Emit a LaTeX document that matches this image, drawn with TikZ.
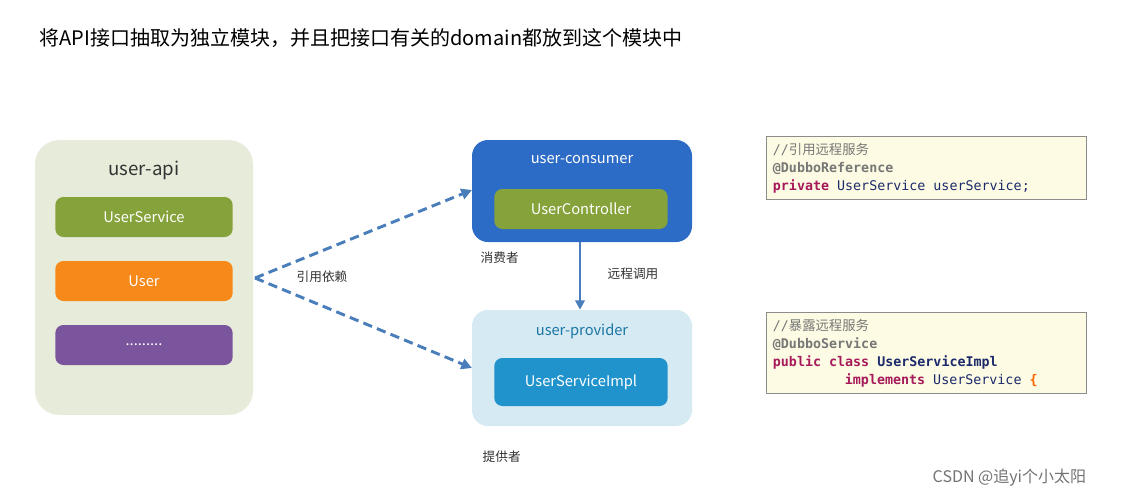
\documentclass[tikz,border=0pt]{standalone}
\usepackage{fontspec}
\setmainfont{Noto Sans CJK SC}
\newfontfamily\cjk{Noto Sans CJK SC}
\newfontfamily\monof{DejaVu Sans Mono}
\usetikzlibrary{arrows.meta}
\newcommand{\msp}{\hspace*{0.602em}}
\definecolor{apibg}{HTML}{E7ECDA}
\definecolor{olive}{HTML}{86A23A}
\definecolor{orng}{HTML}{F7891B}
\definecolor{purp}{HTML}{7A559E}
\definecolor{cblue}{HTML}{2C6CC6}
\definecolor{pbg}{HTML}{D6EAF4}
\definecolor{pblue}{HTML}{2193CC}
\definecolor{arr}{HTML}{4A7EBB}
\definecolor{codebg}{HTML}{FDFBE3}
\definecolor{kw}{HTML}{A6195A}
\definecolor{ty}{HTML}{1B2A6B}
\definecolor{cm}{HTML}{777777}
\begin{document}
\begin{tikzpicture}[x=0.75pt,y=-0.75pt,
  box/.style={rounded corners=6pt,draw=none},
  item/.style={box,minimum width=133pt,minimum height=30pt,text=white,font=\cjk\fontsize{11}{13}\selectfont},
  lbl/.style={font=\cjk\fontsize{9.5}{11}\selectfont,text=black!80},
  code/.style={draw=black!45,fill=codebg,anchor=north west,align=left,inner sep=5pt,text width=230pt,font=\monof\fontsize{10}{13.5}\selectfont}]
\useasboundingbox (0,0) rectangle (1128,497);
\fill[white] (0,0) rectangle (1128,497);
\node[anchor=west,font=\cjk\fontsize{15}{18}\selectfont] (title) at (35,38) {将API接口抽取为独立模块，并且把接口有关的domain都放到这个模块中};
% user-api
\node[box,fill=apibg,rounded corners=18pt,minimum width=163.5pt,minimum height=206pt] (api) at (144,277.5) {};
\node[font=\cjk\fontsize{14}{16}\selectfont,text=black!80] (apit) at (144,170) {user-api};
\node[item,fill=olive] (us) at (144,217) {UserService};
\node[item,fill=orng] (user) at (144,281) {User};
\node[item,fill=purp] (dots) at (144,345) {.........};
% consumer
\node[box,fill=cblue,rounded corners=12pt,minimum width=165pt,minimum height=76.5pt] (cons) at (582,191) {};
\node[font=\cjk\fontsize{11}{13}\selectfont,text=white] (const) at (582,160) {user-consumer};
\node[item,fill=olive,minimum width=130pt] (uc) at (581,209) {UserController};
% provider
\node[box,fill=pbg,rounded corners=12pt,minimum width=165pt,minimum height=87pt] (prov) at (582,368) {};
\node[font=\cjk\fontsize{11}{13}\selectfont,text=pblue!80!black] (provt) at (582,331) {user-provider};
\node[item,fill=pblue,minimum width=130pt,minimum height=36pt] (usi) at (581,382) {UserServiceImpl};
% labels
\node[lbl,anchor=west] (l1) at (476,258) {消费者};
\node[lbl,anchor=west] (l2) at (603,274) {远程调用};
\node[lbl,anchor=west] (l3) at (478,457) {提供者};
\node[lbl,anchor=west] (l4) at (292,277) {引用依赖};
% arrows
\coordinate (src) at (255,278);
\draw[arr,line width=2.2pt,dash pattern=on 7pt off 4pt,-{Triangle[length=8pt,width=8pt]}] (src) -- (472,190);
\draw[arr,line width=2.2pt,dash pattern=on 7pt off 4pt,-{Triangle[length=8pt,width=8pt]}] (src) -- (472,368);
\draw[arr,line width=1.8pt,-{Triangle[length=7pt,width=7pt]}] (580,242) -- (prov.north -| 580,0);
% code
\node[code] (c1) at (766,136) {\textcolor{cm}{//{\cjk 引用远程服务}}\\\textcolor{cm}{\bfseries @DubboReference}\\\textcolor{kw}{\bfseries private}\msp\textcolor{ty}{UserService\msp userService;}};
\node[code] (c2) at (766,312) {\textcolor{cm}{//{\cjk 暴露远程服务}}\\\textcolor{cm}{\bfseries @DubboService}\\\textcolor{kw}{\bfseries public\msp class}\msp\textcolor{ty}{\bfseries UserServiceImpl}\\\hspace*{5.4em}\textcolor{kw}{\bfseries implements}\msp\textcolor{ty}{UserService}\msp\textcolor{orange!80!red}{\bfseries\{}};
\node[anchor=west,font=\cjk\fontsize{12}{14}\selectfont,text=black!55] (wm) at (928,478) {CSDN @追yi个小太阳};
\end{tikzpicture}
\end{document}
